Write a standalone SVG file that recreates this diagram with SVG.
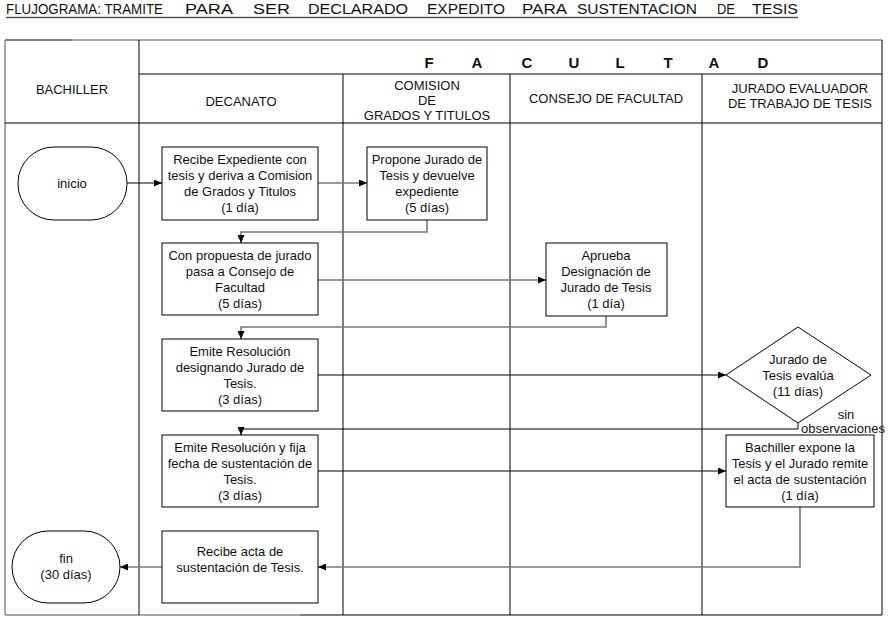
<svg xmlns="http://www.w3.org/2000/svg" width="890" height="621" viewBox="0 0 890 621">
<style>
  text { font-family: "Liberation Sans", Arial, sans-serif; font-size: 13px; fill: #111; }
  .c { text-anchor: middle; }
  .title { font-size: 14px; fill: #111; }
  .fac { font-size: 15px; font-weight: bold; text-anchor: middle; }
  .grid { stroke: #000; stroke-width: 1; fill: none; }
  .gridg { stroke: #888; stroke-width: 1.5; fill: none; }
  .node { fill: #fff; stroke: #000; stroke-width: 1; }
  .ln { fill: none; stroke: #000; stroke-width: 1; }
  .lg { fill: none; stroke: #777; stroke-width: 1.6; }
</style>
<defs>
  <marker id="arr" markerUnits="userSpaceOnUse" markerWidth="8" markerHeight="7" refX="8" refY="3.5" orient="auto">
    <path d="M0,0 L8,3.5 L0,7 z" fill="#000"/>
  </marker>
</defs>
<rect width="890" height="621" fill="#fff"/>

<g id="title">
  <text class="title" x="6" y="14" textLength="157" lengthAdjust="spacingAndGlyphs">FLUJOGRAMA: TRAMITE</text>
  <text class="title" x="185" y="14" textLength="48" lengthAdjust="spacingAndGlyphs">PARA</text>
  <text class="title" x="253" y="14" textLength="37" lengthAdjust="spacingAndGlyphs">SER</text>
  <text class="title" x="308" y="14" textLength="100" lengthAdjust="spacingAndGlyphs">DECLARADO</text>
  <text class="title" x="427" y="14" textLength="78" lengthAdjust="spacingAndGlyphs">EXPEDITO</text>
  <text class="title" x="522" y="14" textLength="45" lengthAdjust="spacingAndGlyphs">PARA</text>
  <text class="title" x="577" y="14" textLength="120" lengthAdjust="spacingAndGlyphs">SUSTENTACION</text>
  <text class="title" x="717" y="14" textLength="18" lengthAdjust="spacingAndGlyphs">DE</text>
  <text class="title" x="752" y="14" textLength="46" lengthAdjust="spacingAndGlyphs">TESIS</text>
  <line x1="6" y1="17.5" x2="798" y2="17.5" stroke="#555" stroke-width="1.5"/>
</g>

<g id="table">
  <line class="grid" x1="5" y1="40" x2="72" y2="40"/>
  <line class="gridg" x1="72" y1="40" x2="882" y2="40"/>
  <line class="gridg" x1="5" y1="40" x2="5" y2="615"/>
  <line class="grid" x1="882" y1="40" x2="882" y2="615"/>
  <line class="gridg" x1="5" y1="615" x2="300" y2="615"/>
  <line class="grid" x1="300" y1="615" x2="882" y2="615"/>
  <line class="grid" x1="139" y1="40" x2="139" y2="615"/>
  <line class="grid" x1="139" y1="74" x2="882" y2="74"/>
  <line class="grid" x1="5" y1="123" x2="882" y2="123"/>
  <line class="grid" x1="343" y1="74" x2="343" y2="615"/>
  <line class="grid" x1="510" y1="74" x2="510" y2="615"/>
  <line class="grid" x1="702" y1="74" x2="702" y2="615"/>
  <text class="fac" x="429" y="68">F</text>
  <text class="fac" x="477" y="68">A</text>
  <text class="fac" x="527" y="68">C</text>
  <text class="fac" x="574" y="68">U</text>
  <text class="fac" x="620" y="68">L</text>
  <text class="fac" x="668" y="68">T</text>
  <text class="fac" x="714" y="68">A</text>
  <text class="fac" x="763" y="68">D</text>
  <text class="c" x="72" y="94">BACHILLER</text>
  <text class="c" x="241" y="106">DECANATO</text>
  <text class="c" x="427" y="90">COMISION</text>
  <text class="c" x="427" y="105">DE</text>
  <text class="c" x="427" y="120">GRADOS Y TITULOS</text>
  <text class="c" x="606" y="103">CONSEJO DE FACULTAD</text>
  <text class="c" x="800" y="93">JURADO EVALUADOR</text>
  <text class="c" x="800" y="108">DE TRABAJO DE TESIS</text>
</g>

<g id="connectors">
  <path class="ln" d="M127,183 H162" marker-end="url(#arr)"/>
  <path class="lg" d="M318,183 H367" marker-end="url(#arr)"/>
  <path class="lg" d="M427,220 V232 H241 V243" marker-end="url(#arr)"/>
  <path class="lg" d="M318,280 H546" marker-end="url(#arr)"/>
  <path class="lg" d="M606,316 V327 H241 V339" marker-end="url(#arr)"/>
  <path class="ln" d="M318,375 H726" marker-end="url(#arr)"/>
  <path class="ln" d="M798,423 V429 H241 V435" marker-end="url(#arr)"/>
  <path class="ln" d="M318,471 H726" marker-end="url(#arr)"/>
  <path class="lg" d="M800,507 V567 H318" marker-end="url(#arr)"/>
  <path class="lg" d="M162,567 H120" marker-end="url(#arr)"/>
  <text class="c" x="846" y="419">sin</text>
  <text class="c" x="843" y="433">observaciones</text>
</g>

<g id="inicio">
  <rect class="node" x="18" y="147" width="109" height="73" rx="36" ry="36"/>
  <text class="c" x="72" y="188">inicio</text>
</g>

<g id="recibe-expediente">
  <rect class="node" x="162" y="147" width="156" height="73"/>
  <text class="c" x="240" y="164">Recibe Expediente con</text>
  <text class="c" x="240" y="180">tesis y deriva a Comision</text>
  <text class="c" x="240" y="196">de Grados y Titulos</text>
  <text class="c" x="240" y="212">(1 día)</text>
</g>

<g id="propone-jurado">
  <rect class="node" x="367" y="147" width="120" height="73"/>
  <text class="c" x="427" y="164">Propone Jurado de</text>
  <text class="c" x="427" y="180">Tesis y devuelve</text>
  <text class="c" x="427" y="196">expediente</text>
  <text class="c" x="427" y="212">(5 días)</text>
</g>

<g id="con-propuesta">
  <rect class="node" x="162" y="243" width="156" height="72"/>
  <text class="c" x="240" y="260">Con propuesta de jurado</text>
  <text class="c" x="240" y="276">pasa a Consejo de</text>
  <text class="c" x="240" y="292">Facultad</text>
  <text class="c" x="240" y="308">(5 días)</text>
</g>

<g id="aprueba">
  <rect class="node" x="546" y="243" width="121" height="73"/>
  <text class="c" x="606" y="260">Aprueba</text>
  <text class="c" x="606" y="276">Designación de</text>
  <text class="c" x="606" y="292">Jurado de Tesis</text>
  <text class="c" x="606" y="308">(1 día)</text>
</g>

<g id="emite-resolucion">
  <rect class="node" x="162" y="339" width="156" height="72"/>
  <text class="c" x="240" y="356">Emite Resolución</text>
  <text class="c" x="240" y="372">designando Jurado de</text>
  <text class="c" x="240" y="388">Tesis.</text>
  <text class="c" x="240" y="404">(3 días)</text>
</g>

<g id="jurado-evalua">
  <polygon class="node" points="798,327 871,375 798,423 726,375"/>
  <text class="c" x="798" y="364">Jurado de</text>
  <text class="c" x="798" y="380">Tesis evalúa</text>
  <text class="c" x="798" y="396">(11 días)</text>
</g>

<g id="emite-fecha">
  <rect class="node" x="162" y="435" width="156" height="72"/>
  <text class="c" x="240" y="452">Emite Resolución y fija</text>
  <text class="c" x="240" y="468">fecha de sustentación de</text>
  <text class="c" x="240" y="484">Tesis.</text>
  <text class="c" x="240" y="500">(3 días)</text>
</g>

<g id="bachiller-expone">
  <rect class="node" x="726" y="435" width="148" height="72"/>
  <text class="c" x="800" y="452">Bachiller expone la</text>
  <text class="c" x="800" y="468">Tesis y el Jurado remite</text>
  <text class="c" x="800" y="484">el acta de sustentación</text>
  <text class="c" x="800" y="500">(1 día)</text>
</g>

<g id="recibe-acta">
  <rect class="node" x="162" y="531" width="156" height="72"/>
  <text class="c" x="240" y="556">Recibe acta de</text>
  <text class="c" x="240" y="572">sustentación de Tesis.</text>
</g>

<g id="fin">
  <rect class="node" x="12" y="531" width="108" height="72" rx="36" ry="36"/>
  <text class="c" x="66" y="563">fin</text>
  <text class="c" x="66" y="579">(30 días)</text>
</g>
</svg>
